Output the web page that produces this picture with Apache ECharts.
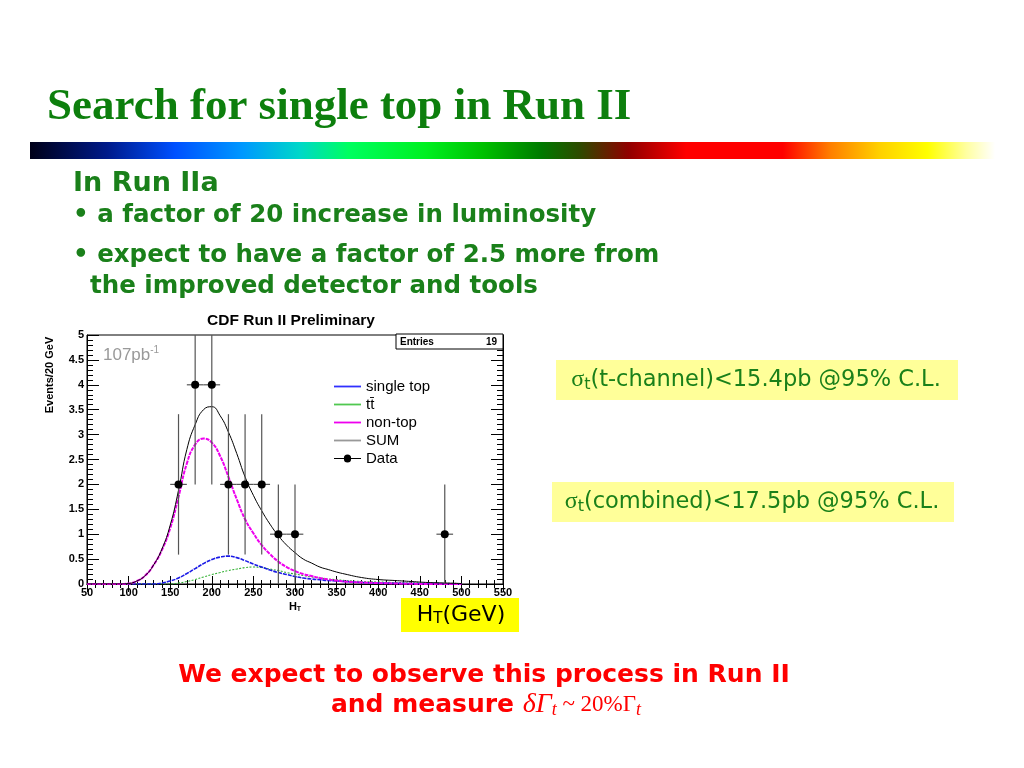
<!DOCTYPE html>
<html><head><meta charset="utf-8">
<script src="https://cdn.jsdelivr.net/npm/echarts@6/dist/echarts.min.js"></script>
<style>html,body{margin:0;padding:0;background:#fff;}#c{width:1024px;height:768px;}</style>
</head><body><div id="c"></div>
<script>
// ---- data ----
const htGrid = [50,60,70,80,90,100,110,120,130,140,150,160,170,180,190,200,210,220,230,240,250,260,270,280,290,300,310,320,330,340,350,360,380,400,420,440,460,480,500];
const singleTop = [0,0,0,0,0,0,0,0,0,0.02,0.06,0.12,0.21,0.31,0.41,0.49,0.54,0.56,0.53,0.47,0.40,0.34,0.28,0.23,0.19,0.15,0.12,0.10,0.085,0.07,0.06,0.05,0.03,0.02,0.015,0.01,0.01,0.005,0];
const ttbar     = [0,0,0,0,0,0,0,0,0,0,0,0.02,0.05,0.09,0.14,0.19,0.23,0.27,0.30,0.33,0.34,0.33,0.30,0.27,0.23,0.20,0.17,0.14,0.12,0.10,0.085,0.07,0.05,0.04,0.03,0.025,0.02,0.015,0.01];
const nonTop    = [0,0,0,0,0,0.01,0.06,0.17,0.38,0.68,1.12,1.75,2.42,2.80,2.92,2.84,2.57,2.15,1.70,1.30,1.02,0.78,0.60,0.45,0.34,0.26,0.20,0.16,0.12,0.09,0.07,0.05,0.03,0.02,0.01,0.005,0,0,0];
const sumCurve  = [0,0,0,0,0,0.01,0.06,0.17,0.38,0.70,1.18,1.88,2.70,3.20,3.50,3.56,3.38,3.05,2.62,2.15,1.78,1.47,1.20,0.97,0.78,0.63,0.50,0.42,0.34,0.29,0.24,0.20,0.13,0.09,0.07,0.05,0.03,0.02,0.01];
const dataX    = [160,180,200,220,240,260,280,300,480];
const dataY    = [2,4,4,2,2,2,1,1,1];
const errDown  = [1.41,2,2,1.41,1.41,1.41,1,1,1];
const errUp    = [1.41,2,2,1.41,1.41,1.41,1,1,1];
const binHalf  = 10;
const xTicks = [50,550,50];   // min, max, interval
const yTicks = [0,5,0.5];
const entries = 19;

const pair = (xs, ys) => xs.map((x,i)=>[x, ys[i]]);
const errData = dataX.map((x,i)=>[x, dataY[i], dataY[i]-errDown[i], dataY[i]+errUp[i]]);

const chart = echarts.init(document.getElementById('c'));
const G = '#1a801a';
const gridBox = {left:87, top:335, width:416, height:249};
const lineIcon = 'path://M0,4 L30,4 L30,6 L0,6 Z';

const axisLabelStyle = {fontFamily:'Liberation Sans', fontWeight:'bold', fontSize:11, color:'#000'};
chart.setOption({
  animation:false,
  backgroundColor:'#fff',
  grid: Object.assign({show:true, borderColor:'#000', borderWidth:1, backgroundColor:'#fff'}, gridBox),
  xAxis:[{
    type:'value', min:xTicks[0], max:xTicks[1], interval:xTicks[2],
    axisLine:{show:true, lineStyle:{color:'#000'}},
    axisTick:{show:true, inside:true, length:8, lineStyle:{color:'#000'}},
    minorTick:{show:true, splitNumber:5, length:4, lineStyle:{color:'#000'}},
    axisLabel:Object.assign({margin:3}, axisLabelStyle),
    splitLine:{show:false},
    name:'{a|H}{s|T}', nameLocation:'middle', nameGap:16,
    nameTextStyle:{rich:{a:{fontFamily:'Liberation Sans',fontWeight:'bold',fontSize:11,color:'#000'}, s:{fontFamily:'Liberation Sans',fontWeight:'bold',fontSize:7,color:'#000',verticalAlign:'bottom',padding:[6,0,0,0]}}}
  },{
    type:'value', position:'top', min:xTicks[0], max:xTicks[1], interval:xTicks[2],
    axisLine:{show:true, lineStyle:{color:'#000'}},
    axisTick:{show:true, inside:true, length:8, lineStyle:{color:'#000'}},
    minorTick:{show:true, splitNumber:5, length:4, lineStyle:{color:'#000'}},
    axisLabel:{show:false}, splitLine:{show:false}
  }],
  yAxis:[{
    type:'value', min:yTicks[0], max:yTicks[1], interval:yTicks[2],
    axisLine:{show:true, lineStyle:{color:'#000'}},
    axisTick:{show:true, inside:true, length:12, lineStyle:{color:'#000'}},
    minorTick:{show:true, splitNumber:5, length:6, lineStyle:{color:'#000'}},
    axisLabel:Object.assign({margin:3, formatter:v=>String(v)}, axisLabelStyle),
    splitLine:{show:false}
  },{
    type:'value', position:'right', min:yTicks[0], max:yTicks[1], interval:yTicks[2],
    axisLine:{show:true, lineStyle:{color:'#000'}},
    axisTick:{show:true, inside:true, length:12, lineStyle:{color:'#000'}},
    minorTick:{show:true, splitNumber:5, length:6, lineStyle:{color:'#000'}},
    axisLabel:{show:false}, splitLine:{show:false}
  }],
  legend:{
    left:329, top:374, orient:'vertical', itemWidth:27, itemHeight:10, itemGap:3,
    textStyle:{fontFamily:'Liberation Sans', fontSize:15, color:'#000', padding:[0,0,0,0]},
    data:[
      {name:'single top', icon:lineIcon, itemStyle:{color:'#3030ff', opacity:1}},
      {name:'tt\u0304', icon:lineIcon, itemStyle:{color:'#50c850'}},
      {name:'non-top', icon:lineIcon, itemStyle:{color:'#ee00ee'}},
      {name:'SUM', icon:lineIcon, itemStyle:{color:'#999'}},
      {name:'Data', icon:'path://M0,3.5 L11,3.5 A4,4 0 0 1 19,3.5 L30,3.5 L30,4.5 L19,4.5 A4,4 0 0 1 11,4.5 L0,4.5 Z', itemStyle:{color:'#000'}}
    ]
  },
  series:[
    {name:'single top', type:'line', data:pair(htGrid,singleTop), showSymbol:false, symbol:'none', smooth:true,
     lineStyle:{color:'#1a1ae6', width:1.6, type:[4,1]}, itemStyle:{color:'#3030ff'}, z:3},
    {name:'tt\u0304', type:'line', data:pair(htGrid,ttbar), showSymbol:false, symbol:'none', smooth:true,
     lineStyle:{color:'#30b030', width:1.1, type:[2,1.5]}, itemStyle:{color:'#50c850'}, z:2},
    {name:'non-top', type:'line', data:pair(htGrid,nonTop), showSymbol:false, symbol:'none', smooth:true,
     lineStyle:{color:'#ee00ee', width:2, type:[4,1]}, itemStyle:{color:'#ee00ee'}, z:4},
    {name:'SUM', type:'line', data:pair(htGrid,sumCurve), showSymbol:false, symbol:'none', smooth:true,
     lineStyle:{color:'#000', width:1}, itemStyle:{color:'#999'}, z:5},
    {name:'Data', type:'custom', data:errData, z:6,
     renderItem:function(params, api){
       const x=api.value(0), y=api.value(1), lo=api.value(2), hi=api.value(3);
       const cs=params.coordSys;
       const p=api.coord([x,y]);
       const pl=api.coord([x,lo]); const ph=api.coord([x,hi]);
       const top=Math.max(ph[1], cs.y), bot=Math.min(pl[1], cs.y+cs.height);
       const a=api.coord([x-binHalf,y]), b=api.coord([x+binHalf,y]);
       const st={stroke:'#555', lineWidth:1.2};
       return {type:'group', children:[
         {type:'line', shape:{x1:p[0],y1:top,x2:p[0],y2:bot}, style:st},
         {type:'line', shape:{x1:a[0],y1:p[1],x2:b[0],y2:p[1]}, style:st},
         {type:'circle', shape:{cx:p[0],cy:p[1],r:4}, style:{fill:'#000'}}
       ]};
     },
     itemStyle:{color:'#000'}
    }
  ],
  graphic:[
    // slide title
    {type:'text', x:47, y:107, style:{text:'Search for single top in Run II', font:'bold 45px "Liberation Serif"', fill:'#0d7f0d', textVerticalAlign:'middle'}},
    // gradient bar
    {type:'rect', shape:{x:30, y:142, width:965, height:17}, style:{fill:new echarts.graphic.LinearGradient(0,0,1,0,[
      {offset:0,color:'#000018'},{offset:0.08,color:'#001a8a'},{offset:0.15,color:'#0050ff'},{offset:0.22,color:'#0098ff'},
      {offset:0.28,color:'#00d8c8'},{offset:0.33,color:'#00ff60'},{offset:0.41,color:'#00f020'},{offset:0.47,color:'#00c000'},
      {offset:0.53,color:'#007a00'},{offset:0.57,color:'#2e4a00'},{offset:0.62,color:'#900000'},{offset:0.68,color:'#ff0000'},
      {offset:0.78,color:'#ff0000'},{offset:0.83,color:'#ff8000'},{offset:0.88,color:'#ffd000'},{offset:0.93,color:'#ffff00'},
      {offset:0.97,color:'#ffffa0'},{offset:1,color:'#ffffff'}])}},
    // bullet text
    {type:'text', x:73, y:184, style:{text:'In Run IIa', font:'bold 27px "DejaVu Sans"', fill:G, textVerticalAlign:'middle'}},
    {type:'text', x:73, y:216, style:{text:'\u2022 a factor of 20 increase in luminosity', font:'bold 24.5px "DejaVu Sans"', fill:G, textVerticalAlign:'middle'}},
    {type:'text', x:73, y:256, style:{text:'\u2022 expect to have a factor of 2.5 more from', font:'bold 24.5px "DejaVu Sans"', fill:G, textVerticalAlign:'middle'}},
    {type:'text', x:90, y:287, style:{text:'the improved detector and tools', font:'bold 24.5px "DejaVu Sans"', fill:G, textVerticalAlign:'middle'}},
    // plot title
    {type:'text', x:291, y:321, style:{text:'CDF Run II Preliminary', font:'bold 15.5px "Liberation Sans"', fill:'#000', textAlign:'center', textVerticalAlign:'middle'}},
    // entries box
    {type:'rect', shape:{x:396, y:334, width:107, height:15}, style:{fill:'#fff', stroke:'#000', lineWidth:1}, z:10},
    {type:'text', x:400, y:342, z:11, style:{text:'Entries', font:'bold 10px "Liberation Sans"', fill:'#000', textVerticalAlign:'middle'}},
    {type:'text', x:497, y:342, z:11, style:{text:String(entries), font:'bold 10px "Liberation Sans"', fill:'#000', textAlign:'right', textVerticalAlign:'middle'}},
    // luminosity label
    {type:'text', x:103, y:355, z:11, style:{text:'{a|107pb}{s|-1}', textVerticalAlign:'middle', rich:{a:{font:'17px "Liberation Sans"', fill:'#999'}, s:{font:'10px "Liberation Sans"', fill:'#999', padding:[0,0,9,0]}}}},
    // y axis title
    {type:'text', x:50, y:375, rotation:Math.PI/2, z:11, style:{text:'Events/20 GeV', font:'bold 11px "Liberation Sans"', fill:'#000', textAlign:'center', textVerticalAlign:'middle'}},
    // HT(GeV) box
    {type:'rect', shape:{x:401, y:598, width:118, height:34}, style:{fill:'#ffff00'}},
    {type:'text', x:461, y:615, style:{text:'{a|H}{s|T}{a|(GeV)}', textAlign:'center', textVerticalAlign:'middle', rich:{a:{font:'22px "DejaVu Sans"', fill:'#000'}, s:{font:'15px "DejaVu Sans"', fill:'#000', padding:[9,0,0,0]}}}},
    // right boxes
    {type:'rect', shape:{x:556, y:360, width:402, height:40}, style:{fill:'#ffff99'}},
    {type:'text', x:756, y:380, style:{text:'{g|\u03c3}{s|t}{a|(t-channel)<15.4pb @95% C.L.}', textAlign:'center', textVerticalAlign:'middle', rich:{g:{font:'24px "Liberation Serif"', fill:G}, s:{font:'16px "DejaVu Sans"', fill:G, padding:[10,0,0,0]}, a:{font:'22.5px "DejaVu Sans"', fill:G}}}},
    {type:'rect', shape:{x:552, y:482, width:402, height:40}, style:{fill:'#ffff99'}},
    {type:'text', x:752, y:502, style:{text:'{g|\u03c3}{s|t}{a|(combined)<17.5pb @95% C.L.}', textAlign:'center', textVerticalAlign:'middle', rich:{g:{font:'24px "Liberation Serif"', fill:G}, s:{font:'16px "DejaVu Sans"', fill:G, padding:[10,0,0,0]}, a:{font:'22.5px "DejaVu Sans"', fill:G}}}},
    // bottom text
    {type:'text', x:484, y:675, style:{text:'We expect to observe this process in Run II', font:'bold 25px "DejaVu Sans"', fill:'#ff0000', textAlign:'center', textVerticalAlign:'middle'}},
    {type:'text', x:486, y:705, style:{text:'{a|and measure }{i|\u03b4\u0393}{is|t}{r| ~ 20%\u0393}{is|t}', textAlign:'center', textVerticalAlign:'middle',
      rich:{a:{font:'bold 25px "DejaVu Sans"', fill:'#ff0000'}, i:{font:'italic 28px "Liberation Serif"', fill:'#ff0000'}, r:{font:'23px "Liberation Serif"', fill:'#ff0000'}, is:{font:'italic 18px "Liberation Serif"', fill:'#ff0000', padding:[11,0,0,0]}}}}
  ]
});
</script></body></html>
